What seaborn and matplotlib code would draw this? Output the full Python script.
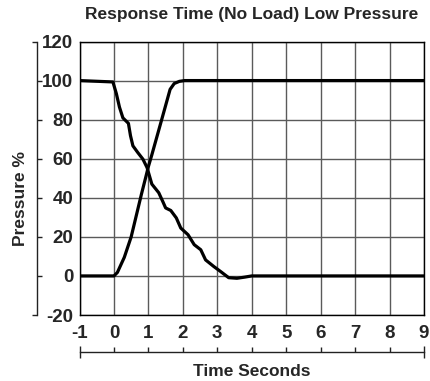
import matplotlib
matplotlib.use("Agg")
import matplotlib.pyplot as plt
import seaborn as sns
import pandas as pd

# ---- data ----
time_falling = [-1.0, -0.03, 0.07, 0.16, 0.26, 0.42, 0.48, 0.55, 0.69, 0.84, 0.96, 1.1,
                1.3, 1.42, 1.5, 1.65, 1.81, 1.94, 2.15, 2.33, 2.52, 2.66, 2.9, 3.1,
                3.33, 3.57, 3.8, 4.0, 9.0]
pressure_falling = [100.0, 99.3, 93.3, 86.4, 80.9, 78.1, 71.8, 66.6, 63.2, 59.8, 55.5, 47.0,
                    42.6, 38.0, 34.8, 33.5, 29.7, 24.5, 21.1, 16.0, 13.4, 8.2, 4.8, 2.2,
                    -0.9, -1.2, -0.6, 0.0, 0.0]
time_rising = [-1.0, 0.0, 0.1, 0.3, 0.5, 0.65, 0.8, 0.93, 1.0, 1.1, 1.27, 1.46, 1.63, 1.75,
               1.9, 2.05, 9.0]
pressure_rising = [0.0, 0.0, 1.8, 9.5, 20.0, 31.0, 42.0, 51.0, 56.0, 62.0, 72.7, 84.7, 95.5,
                   98.5, 99.6, 100.0, 100.0]
x_ticks = list(range(-1, 10))
y_ticks = list(range(-20, 121, 20))

title = "Response Time (No Load) Low Pressure"
x_label = "Time Seconds"
y_label = "Pressure %"

sns.set_style("white")
plt.rcParams["font.family"] = ["Liberation Sans", "DejaVu Sans"]
plt.rcParams["font.weight"] = "bold"
plt.rcParams["axes.unicode_minus"] = False

W, H = 430, 381
fig = plt.figure(figsize=(W / 100, H / 100), dpi=100)
l, r, t, b = 79.5, 424, 41.5, 315
ax = fig.add_axes([l / W, 1 - b / H, (r - l) / W, (b - t) / H])

df_f = pd.DataFrame({"t": time_falling, "p": pressure_falling})
df_r = pd.DataFrame({"t": time_rising, "p": pressure_rising})
sns.lineplot(data=df_f, x="t", y="p", ax=ax, color="black", linewidth=2.3, sort=False,
             estimator=None)
sns.lineplot(data=df_r, x="t", y="p", ax=ax, color="black", linewidth=2.3, sort=False,
             estimator=None)

ax.set_xlim(-1, 9)
ax.set_ylim(-20, 120)
ax.set_xticks(x_ticks)
ax.set_yticks(y_ticks)
ax.grid(True, color="#5a5a5a", linewidth=1.0)
ax.set_axisbelow(True)
for s in ax.spines.values():
    s.set_visible(True)
    s.set_color("black")
    s.set_linewidth(1.0)
ax.tick_params(axis="both", length=0, labelsize=13.5)
ax.tick_params(axis="y", pad=4.5)
ax.tick_params(axis="x", pad=7)
for lab in ax.get_xticklabels() + ax.get_yticklabels():
    lab.set_fontweight("bold")
ax.set_xlabel("")
ax.set_ylabel("")

# separate left axis
sy = ax.secondary_yaxis((37 - l) / (r - l))
sy.set_yticks(y_ticks[1:-1])
sy.set_yticks([y_ticks[0], y_ticks[-1]], minor=True)
sy.tick_params(axis="y", which="major", direction="in", length=3.8, width=1,
               labelleft=False, labelright=False, color="#222222")
sy.tick_params(axis="y", which="minor", direction="out", length=3.8, width=1,
               labelleft=False, labelright=False, color="#222222")
sy.spines["left"].set_color("#222222")
sy.spines["left"].set_linewidth(1.0)

# separate bottom axis
sx = ax.secondary_xaxis(-(352 - b) / (b - t))
sx.set_xticks(x_ticks[1:-1])
sx.set_xticks([x_ticks[0], x_ticks[-1]], minor=True)
sx.tick_params(axis="x", which="major", direction="in", length=3.8, width=1,
               labelbottom=False, labeltop=False, color="#222222")
sx.tick_params(axis="x", which="minor", direction="inout", length=8, width=1,
               labelbottom=False, labeltop=False, color="#222222")
sx.spines["bottom"].set_color("#222222")
sx.spines["bottom"].set_linewidth(1.0)

fig.text(251.5 / W, 1 - 14.5 / H, title, ha="center", va="center", fontsize=12.5,
         fontweight="bold")
fig.text(251.5 / W, 1 - 372 / H, x_label, ha="center", va="center", fontsize=12.5,
         fontweight="bold")
fig.text(21 / W, 1 - 198 / H, y_label, ha="center", va="center", fontsize=12.5,
         fontweight="bold", rotation=90)

fig.savefig("out.png", dpi=100)
